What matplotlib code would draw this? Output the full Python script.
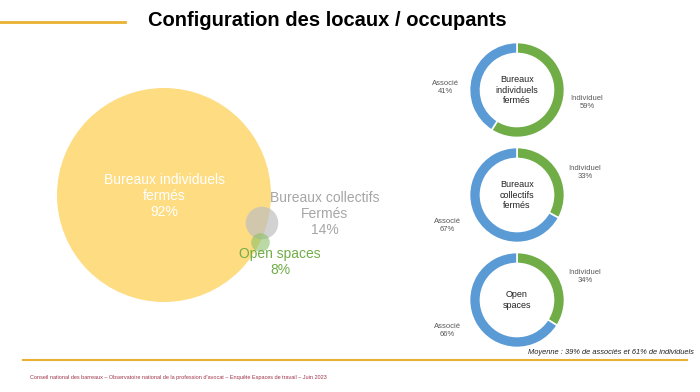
import matplotlib.pyplot as plt
from matplotlib.patches import Circle

plt.rcParams['font.family'] = ['Liberation Sans', 'DejaVu Sans']

# Bubble data (share of offices by type)
bubble_labels = ["Bureaux individuels\nfermés", "Bureaux collectifs\nFermés", "Open spaces"]
bubble_values = [92, 14, 8]

# Donut data (occupants per office type)
donut_titles = ["Bureaux\nindividuels\nfermés", "Bureaux\ncollectifs\nfermés", "Open\nspaces"]
individuel = [59, 33, 34]
associe = [41, 67, 66]

W, H = 700, 392
fig = plt.figure(figsize=(7, 3.92), dpi=100)
ax = fig.add_axes([0, 0, 1, 1])
ax.set_xlim(0, W)
ax.set_ylim(0, H)
ax.set_aspect('equal')
ax.axis('off')

gold = "#E8B130"

# title and rules
ax.plot([0, 125], [H - 22, H - 22], color=gold, lw=2)
ax.text(327, H - 20, "Configuration des locaux / occupants", ha='center', va='center',
        fontsize=14.5, fontweight='bold', color='black')
ax.plot([23, 687], [H - 360, H - 360], color=gold, lw=1.5)
ax.text(30, H - 377, "Conseil national des barreaux – Observatoire national de la profession d'avocat – "
        "Enquête Espaces de travail – Juin 2023", fontsize=3.95, color="#A0344A", va='center')
ax.text(694, H - 353, "Moyenne : 39% de associés et 61% de individuels", fontsize=5.4,
        style='italic', color="#222222", ha='right', va='center')

# bubbles: radius proportional to value
scale = 107 / bubble_values[0]
centers = [(164, H - 195), (262, H - 223), (260.5, H - 242.5)]
fills = [("#FDDC82", 1.0), ("#BFBFBF", 0.7), ("#8CC16A", 0.6)]
for (cx, cy), v, (c, a) in zip(centers, bubble_values, fills):
    ax.add_patch(Circle((cx, cy), v * scale, facecolor=c, alpha=a, edgecolor='none'))

ax.text(164, H - 196, f"{bubble_labels[0]}\n{bubble_values[0]}%", ha='center', va='center',
        color='white', fontsize=10, linespacing=1.15)
ax.text(325, H - 214, f"{bubble_labels[1]}\n{bubble_values[1]}%", ha='center', va='center',
        color="#A6A6A6", fontsize=10, linespacing=1.15)
ax.text(280, H - 262, f"{bubble_labels[2]}\n{bubble_values[2]}%", ha='center', va='center',
        color="#70AD47", fontsize=10, linespacing=1.15)

# donuts
green, blue = "#70AD47", "#5B9BD5"
donut_centers = [(517, H - 90), (517, H - 195), (517, H - 300)]
ind_pos = [(587, H - 102), (585, H - 172), (585, H - 277)]
ass_pos = [(445, H - 87), (447, H - 225), (447, H - 331)]
for i in range(3):
    ax.pie([individuel[i], associe[i]], colors=[green, blue], center=donut_centers[i],
           radius=47.5, startangle=90, counterclock=False,
           wedgeprops=dict(width=11, edgecolor='white', linewidth=1.2), frame=True)
    ax.text(*donut_centers[i], donut_titles[i], ha='center', va='center', fontsize=6.5,
            color="#222222", linespacing=1.2)
    ax.text(*ind_pos[i], f"Individuel\n{individuel[i]}%", ha='center', va='center',
            fontsize=5.5, color="#595959")
    ax.text(*ass_pos[i], f"Associé\n{associe[i]}%", ha='center', va='center',
            fontsize=5.5, color="#595959")

ax.set_xlim(0, W)
ax.set_ylim(0, H)
ax.axis('off')

fig.savefig("out.png", dpi=100)
